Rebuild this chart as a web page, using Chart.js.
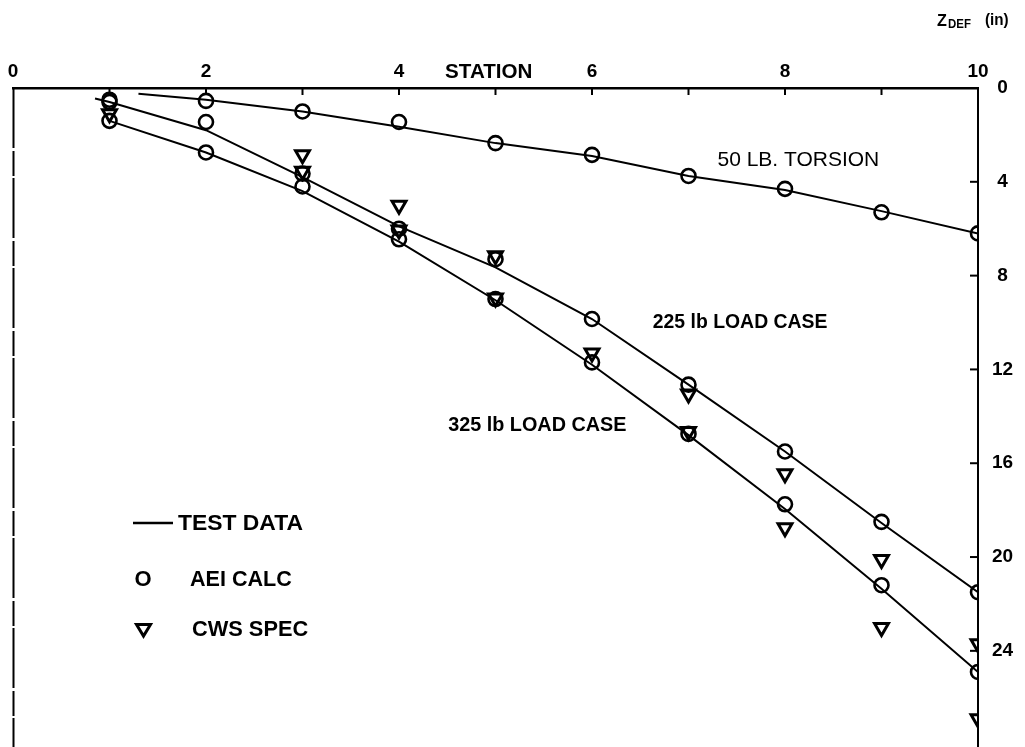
<!DOCTYPE html>
<html>
<head>
<meta charset="utf-8">
<script src="https://cdn.jsdelivr.net/npm/chart.js@4.4.1/dist/chart.umd.min.js"></script>
<style>
  html, body { margin: 0; padding: 0; background: #fff; }
  #wrap { width: 1025px; height: 747px; }
</style>
</head>
<body>
<div id="wrap"><canvas id="c" width="1025" height="747"></canvas></div>
<script>
// ---- data ----
const stations = [1, 2, 3, 4, 5, 6, 7, 8, 9, 10];
const torsionAEI = [0.5, 0.55, 1.0, 1.45, 2.35, 2.85, 3.75, 4.3, 5.3, 6.2];
const load225AEI = [0.6, 1.45, 3.65, 6.0, 7.3, 9.85, 12.65, 15.5, 18.5, 21.5];
const load225CWS = [null, null, 2.85, 5.0, 7.15, null, 13.05, 16.45, 20.1, 23.7];
const load325AEI = [1.4, 2.75, 4.2, 6.45, 9.0, 11.7, 14.75, 17.75, 21.2, 24.9];
const load325CWS = [1.1, null, 3.55, 6.05, 8.95, 11.3, 14.65, 18.75, 23.0, 26.9];

const torsionTestX = [1.3, 2, 3, 4, 5, 6, 7, 8, 9, 10];
const torsionTestY = [0.25, 0.5, 1.0, 1.65, 2.35, 2.9, 3.75, 4.35, 5.25, 6.2];
const load225TestX = [0.85, 1, 2, 3, 4, 5, 6, 7, 8, 9, 10];
const load225TestY = [0.45, 0.6, 1.8, 3.8, 5.9, 7.65, 9.85, 12.65, 15.5, 18.55, 21.5];
const load325TestX = [1, 2, 3, 4, 5, 6, 7, 8, 9, 10];
const load325TestY = [1.4, 2.75, 4.4, 6.55, 9.05, 11.8, 14.8, 17.95, 21.35, 24.9];

const xTickLabels = [0, 2, 4, 6, 8, 10];
const yTickLabels = [0, 4, 8, 12, 16, 20, 24];

const xMin = 0, xMax = 10, yMin = 0, yMax = 28.1;

// ---- helpers ----
function pts(xs, ys) {
  const out = [];
  xs.forEach((x, i) => { if (ys[i] !== null) out.push({ x: x, y: ys[i] }); });
  return out;
}
const FONT = '"Liberation Sans", Arial, sans-serif';
const lineDs = (xs, ys) => ({
  data: pts(xs, ys), showLine: true, borderColor: '#000', borderWidth: 2,
  pointRadius: 0, tension: 0, fill: false
});
const circleDs = (ys) => ({
  data: pts(stations, ys), showLine: false, pointStyle: 'circle', pointRadius: 7,
  borderColor: '#000', backgroundColor: 'rgba(0,0,0,0)', pointBorderWidth: 2.6
});
const triDs = (ys) => ({
  data: pts(stations, ys), showLine: false, pointStyle: 'triangle', pointRotation: 180,
  pointRadius: 8, borderColor: '#000', backgroundColor: 'rgba(0,0,0,0)', pointBorderWidth: 3
});

const decor = {
  id: 'decor',
  beforeDraw(chart) {
    const ctx = chart.ctx;
    ctx.save();
    ctx.fillStyle = '#fff';
    ctx.fillRect(0, 0, chart.width, chart.height);
    ctx.restore();
  },
  afterDraw(chart) {
    const ctx = chart.ctx;
    const xs = chart.scales.x, ys = chart.scales.y;
    const a = chart.chartArea;
    ctx.save();
    ctx.strokeStyle = '#000';
    ctx.fillStyle = '#000';
    // left frame line
    ctx.lineWidth = 2;
    ctx.setLineDash([60, 3, 25, 2]);
    ctx.beginPath();
    ctx.moveTo(a.left + 0.5, a.top);
    ctx.lineTo(a.left + 0.5, chart.height);
    ctx.stroke();
    ctx.setLineDash([]);
    // inner ticks on top axis
    ctx.lineWidth = 2;
    for (let v = 1; v < 10; v++) {
      const px = xs.getPixelForValue(v);
      ctx.beginPath();
      ctx.moveTo(px, a.top);
      ctx.lineTo(px, a.top + 7);
      ctx.stroke();
    }
    // inner ticks on right axis
    yTickLabels.forEach(v => {
      if (v === 0) return;
      const py = ys.getPixelForValue(v);
      ctx.beginPath();
      ctx.moveTo(a.right - 8, py);
      ctx.lineTo(a.right, py);
      ctx.stroke();
    });
    // condensed text helper
    function txt(s, x, y, font, sx, align) {
      ctx.save();
      ctx.font = font;
      ctx.textBaseline = 'middle';
      ctx.textAlign = align || 'left';
      ctx.translate(x, y);
      ctx.scale(sx, 1);
      ctx.fillText(s, 0, 0);
      ctx.restore();
    }
    // axis title STATION
    txt('STATION', xs.getPixelForValue(4.93), a.top - 16, 'bold 21px ' + FONT, 0.98, 'center');
    // Z DEF (in)
    txt('Z', 937, 21, 'bold 17px ' + FONT, 0.95, 'left');
    txt('DEF', 948, 24, 'bold 13px ' + FONT, 0.88, 'left');
    txt('(in)', 985, 21, 'bold 16px ' + FONT, 0.95, 'left');
    // curve annotations (data coordinates)
    txt('50 LB. TORSION', xs.getPixelForValue(7.3), ys.getPixelForValue(3.1), '21px ' + FONT, 1.0, 'left');
    txt('225 lb LOAD CASE', xs.getPixelForValue(6.63), ys.getPixelForValue(10.0), 'bold 20px ' + FONT, 0.97, 'left');
    txt('325 lb LOAD CASE', xs.getPixelForValue(4.51), ys.getPixelForValue(14.4), 'bold 20px ' + FONT, 0.99, 'left');
    // legend
    ctx.lineWidth = 2.5;
    ctx.beginPath();
    ctx.moveTo(133, 523);
    ctx.lineTo(173, 523);
    ctx.stroke();
    txt('TEST DATA', 178, 524, 'bold 22px ' + FONT, 1.04, 'left');
    txt('O', 143, 580, 'bold 22px ' + FONT, 1.0, 'center');
    txt('AEI CALC', 190, 580, 'bold 22px ' + FONT, 0.98, 'left');
    ctx.lineWidth = 3;
    ctx.beginPath();
    ctx.moveTo(136.5, 624.5);
    ctx.lineTo(150.5, 624.5);
    ctx.lineTo(143.5, 636);
    ctx.closePath();
    ctx.stroke();
    txt('CWS SPEC', 192, 630, 'bold 22px ' + FONT, 0.99, 'left');
    ctx.restore();
  }
};

new Chart(document.getElementById('c'), {
  type: 'scatter',
  data: {
    datasets: [
      lineDs(torsionTestX, torsionTestY),
      lineDs(load225TestX, load225TestY),
      lineDs(load325TestX, load325TestY),
      circleDs(torsionAEI),
      circleDs(load225AEI),
      circleDs(load325AEI),
      triDs(load225CWS),
      triDs(load325CWS)
    ]
  },
  options: {
    responsive: false,
    animation: false,
    devicePixelRatio: 1,
    layout: { autoPadding: false, padding: { left: 13, right: 0, top: 0, bottom: 0 } },
    plugins: { legend: { display: false }, tooltip: { enabled: false } },
    scales: {
      x: {
        type: 'linear', position: 'top', min: xMin, max: xMax,
        afterFit: s => { s.height = 88; s.paddingLeft = 0; s.paddingRight = 0; },
        afterBuildTicks: s => { s.ticks = xTickLabels.map(v => ({ value: v })); },
        ticks: { color: '#000', font: { family: FONT, size: 19, weight: 'bold' }, padding: 5, maxRotation: 0, autoSkip: false },
        grid: { display: false, drawTicks: false },
        border: { display: true, color: '#000', width: 2.5 }
      },
      y: {
        type: 'linear', position: 'right', reverse: true, min: yMin, max: yMax,
        afterFit: s => { s.width = 47; s.paddingTop = 0; s.paddingBottom = 0; },
        afterBuildTicks: s => { s.ticks = yTickLabels.map(v => ({ value: v })); },
        ticks: { color: '#000', font: { family: FONT, size: 19, weight: 'bold' }, padding: 14, crossAlign: 'center', autoSkip: false },
        grid: { display: false, drawTicks: false },
        border: { display: true, color: '#000', width: 2 }
      }
    }
  },
  plugins: [decor]
});
</script>
</body>
</html>
